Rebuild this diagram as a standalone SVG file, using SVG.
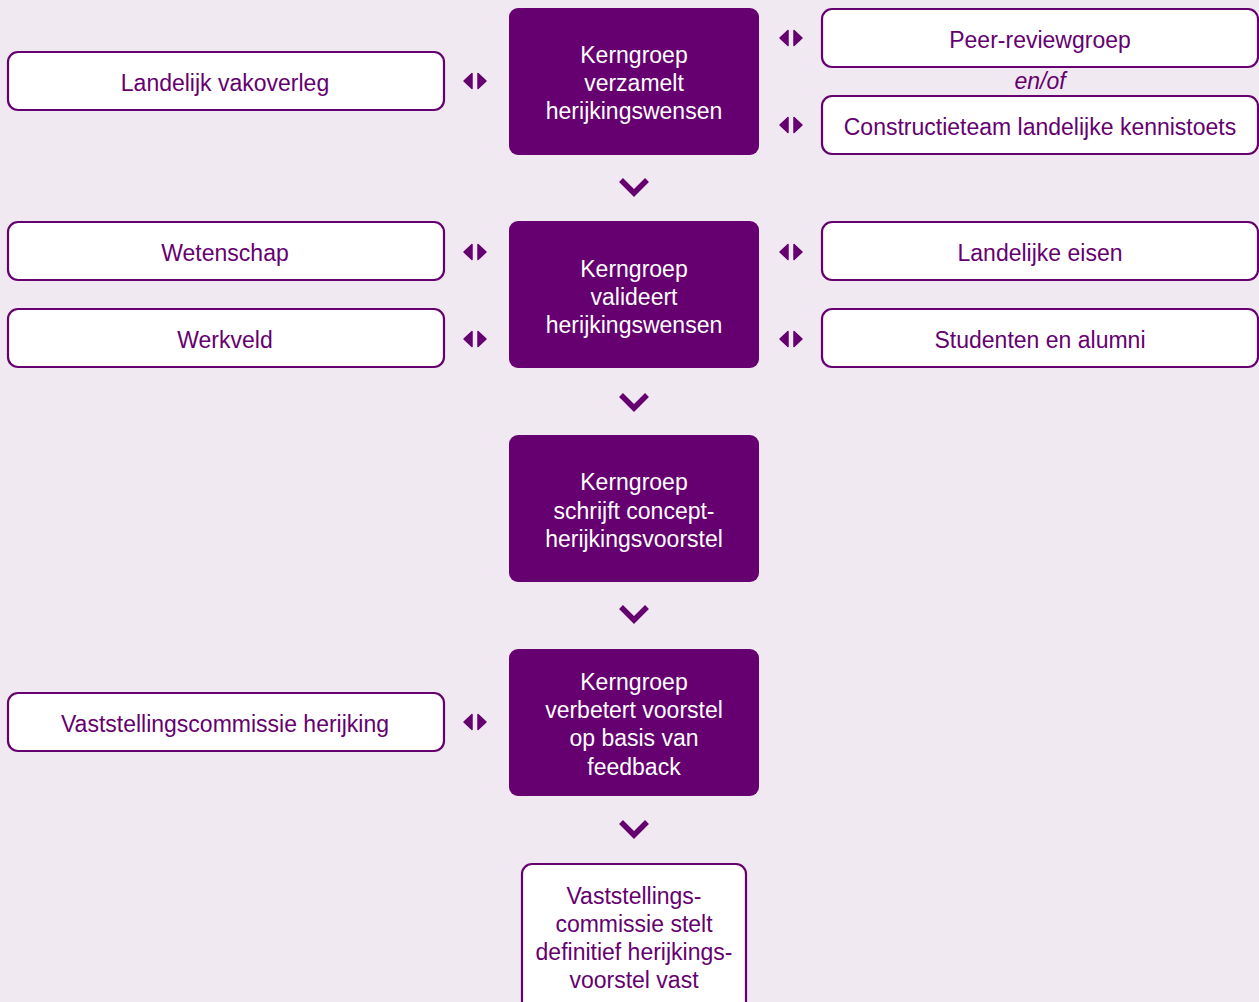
<svg xmlns="http://www.w3.org/2000/svg" width="1259" height="1002" viewBox="0 0 1259 1002">
<defs>
<style>
.bg{fill:#f1e9f1}
.p{fill:#660070}
.w{fill:#ffffff;stroke:#660070;stroke-width:2.2}
.tw{fill:#ffffff;font-family:"Liberation Sans",Arial,sans-serif;font-size:23px;text-anchor:middle}
.tp{fill:#660070;font-family:"Liberation Sans",Arial,sans-serif;font-size:23px;text-anchor:middle}
.it{font-style:italic}
.chev{fill:none;stroke:#660070;stroke-width:5.5;stroke-linecap:butt;stroke-linejoin:miter}
.tri{fill:#660070;stroke:#660070;stroke-width:1.5;stroke-linejoin:round}
</style>
<g id="dbl">
<polygon class="tri" points="-3,-7.5 -11,0 -3,7.5"/>
<polygon class="tri" points="3,-7.5 11,0 3,7.5"/>
</g>
</defs>
<rect class="bg" x="0" y="0" width="1259" height="1002"/>

<g id="connectors">
<path class="chev" d="M621,180 L634,193 L647,180"/>
<path class="chev" d="M621,395 L634,408 L647,395"/>
<path class="chev" d="M621,607 L634,620 L647,607"/>
<path class="chev" d="M621,822 L634,835 L647,822"/>
<use href="#dbl" x="475" y="81"/>
<use href="#dbl" x="475" y="252"/>
<use href="#dbl" x="475" y="339"/>
<use href="#dbl" x="475" y="722"/>
<use href="#dbl" x="791" y="38"/>
<use href="#dbl" x="791" y="125"/>
<use href="#dbl" x="791" y="252"/>
<use href="#dbl" x="791" y="339"/>
</g>

<g id="k1">
<rect class="p" x="509" y="8" width="250" height="147" rx="9"/>
<text class="tw" x="634" y="63">Kerngroep</text>
<text class="tw" x="634" y="91">verzamelt</text>
<text class="tw" x="634" y="119">herijkingswensen</text>
</g>
<g id="k2">
<rect class="p" x="509" y="221" width="250" height="147" rx="9"/>
<text class="tw" x="634" y="277">Kerngroep</text>
<text class="tw" x="634" y="305">valideert</text>
<text class="tw" x="634" y="333">herijkingswensen</text>
</g>
<g id="k3">
<rect class="p" x="509" y="435" width="250" height="147" rx="9"/>
<text class="tw" x="634" y="490">Kerngroep</text>
<text class="tw" x="634" y="519">schrijft concept-</text>
<text class="tw" x="634" y="547">herijkingsvoorstel</text>
</g>
<g id="k4">
<rect class="p" x="509" y="649" width="250" height="147" rx="9"/>
<text class="tw" x="634" y="690">Kerngroep</text>
<text class="tw" x="634" y="718">verbetert voorstel</text>
<text class="tw" x="634" y="746">op basis van</text>
<text class="tw" x="634" y="775">feedback</text>
</g>
<g id="final">
<rect class="w" x="522" y="864" width="224" height="150" rx="10"/>
<text class="tp" x="634" y="904">Vaststellings-</text>
<text class="tp" x="634" y="932">commissie stelt</text>
<text class="tp" x="634" y="960">definitief herijkings-</text>
<text class="tp" x="634" y="988">voorstel vast</text>
</g>

<g id="l1">
<rect class="w" x="8" y="52" width="436" height="58" rx="10"/>
<text class="tp" x="225" y="91">Landelijk vakoverleg</text>
</g>
<g id="l2">
<rect class="w" x="8" y="222" width="436" height="58" rx="10"/>
<text class="tp" x="225" y="261">Wetenschap</text>
</g>
<g id="l3">
<rect class="w" x="8" y="309" width="436" height="58" rx="10"/>
<text class="tp" x="225" y="348">Werkveld</text>
</g>
<g id="l4">
<rect class="w" x="8" y="693" width="436" height="58" rx="10"/>
<text class="tp" x="225" y="732">Vaststellingscommissie herijking</text>
</g>

<g id="r1">
<rect class="w" x="822" y="9" width="436" height="58" rx="10"/>
<text class="tp" x="1040" y="48">Peer-reviewgroep</text>
</g>
<text class="tp it" x="1040" y="89">en/of</text>
<g id="r2">
<rect class="w" x="822" y="96" width="436" height="58" rx="10"/>
<text class="tp" x="1040" y="135">Constructieteam landelijke kennistoets</text>
</g>
<g id="r3">
<rect class="w" x="822" y="222" width="436" height="58" rx="10"/>
<text class="tp" x="1040" y="261">Landelijke eisen</text>
</g>
<g id="r4">
<rect class="w" x="822" y="309" width="436" height="58" rx="10"/>
<text class="tp" x="1040" y="348">Studenten en alumni</text>
</g>
</svg>
